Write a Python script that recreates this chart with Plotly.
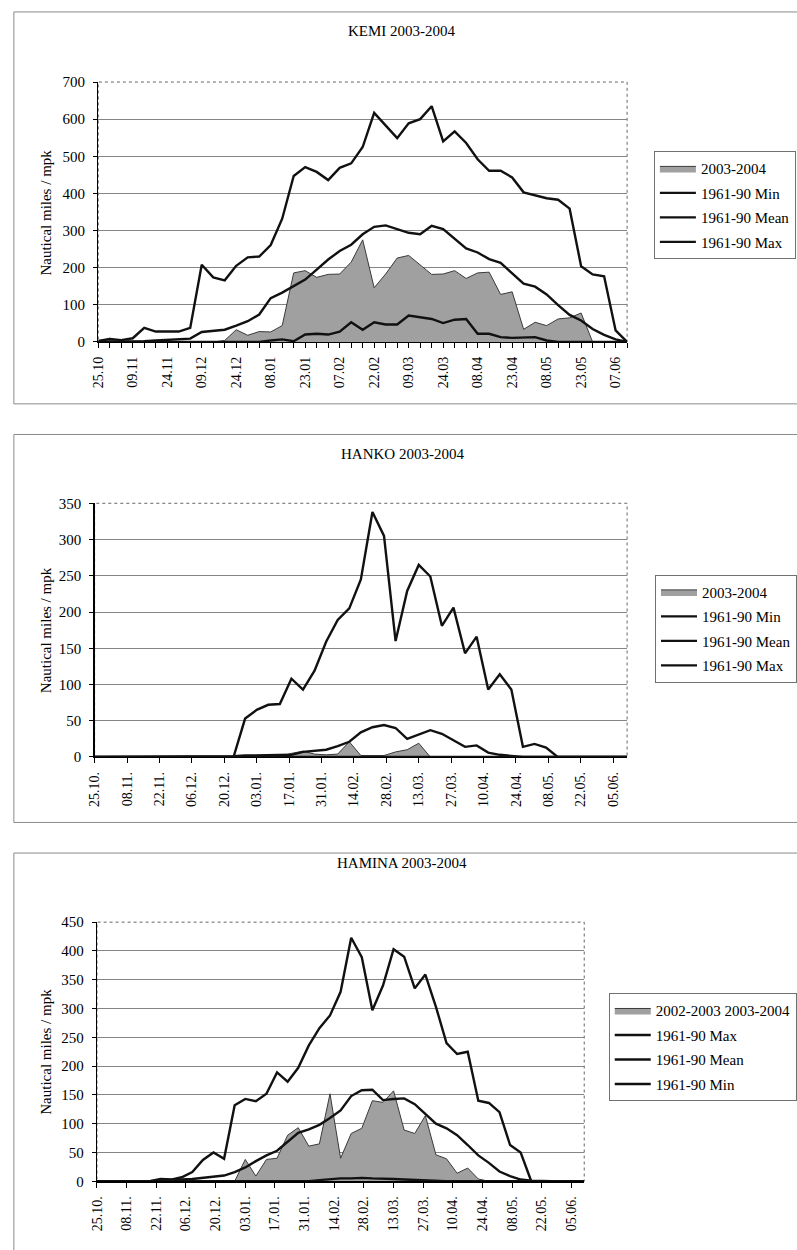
import plotly.graph_objects as go
import pandas as pd

W, H = 797, 1250
FONT = "Liberation Serif, Times New Roman, serif"

# ---------------- DATA ----------------
# KEMI: 47 observations, one every 5 days starting 25.10 (category axis)
KEMI_TICK_LABELS = ["25.10", "09.11", "24.11", "09.12", "24.12", "08.01", "23.01", "07.02",
                    "22.02", "09.03", "24.03", "08.04", "23.04", "08.05", "23.05", "07.06"]
KEMI_2003_2004 = [0, 10, 2, 0, 0, 0, 0, 0, 0, 0, 0, 4, 33, 18, 28, 27, 44, 186, 192, 174,
                  182, 183, 215, 275, 146, 183, 226, 233, 208, 182, 183, 192, 171, 186, 188,
                  128, 135, 34, 53, 44, 62, 65, 78, 0, 0, 0, 0]
KEMI_MIN = [0, 0, 0, 0, 0, 0, 0, 0, 0, 0, 0, 0, 0, 0, 0, 4, 7, 2, 20, 22, 20, 28, 53, 33,
            53, 47, 47, 71, 66, 62, 51, 60, 62, 22, 22, 13, 11, 11, 13, 4, 0, 0, 0, 0, 0, 0, 0]
KEMI_MEAN = [0, 0, 0, 0, 2, 4, 6, 9, 9, 27, 29, 33, 44, 56, 74, 118, 133, 150, 168, 195,
             222, 245, 262, 290, 310, 314, 304, 294, 290, 313, 304, 279, 252, 241, 223, 213,
             186, 157, 149, 128, 99, 73, 58, 35, 19, 7, 0]
KEMI_MAX = [3, 8, 5, 10, 38, 28, 28, 28, 38, 208, 174, 166, 205, 228, 230, 261, 332, 447,
            471, 458, 436, 469, 481, 525, 617, 584, 549, 589, 600, 635, 540, 567, 536, 492,
            461, 461, 443, 403, 396, 387, 383, 359, 204, 182, 177, 31, 0]

# HANKO and HAMINA: 47 observations every 5 days from 25.10.2003 (date axis, 14-day ticks)
SEASON_START = "2003-10-25"
SEASON_END = "2004-06-11"
N_OBS = 47

HANKO_2003_2004 = [0, 0, 0, 0, 0, 0, 0, 0, 0, 0, 0, 0, 0, 0, 0, 0, 0, 5, 8, 4, 3, 4, 21, 2,
                   2, 2, 7, 10, 19, 0, 0, 0, 0, 0, 0, 0, 0, 0, 0, 0, 0, 0, 0, 0, 0, 0, 0]
HANKO_MIN = [0, 0, 0, 0, 0, 0, 0, 0, 0, 0, 0, 0, 0, 0, 0, 0, 0, 0, 0, 0, 0, 0, 0, 0,
             1, 1, 1, 0, 0, 0, 0, 0, 0, 0, 0, 0, 0, 0, 0, 0, 0, 0, 0, 0, 0, 0, 0]
HANKO_MEAN = [0, 0, 0, 0, 0, 0, 0, 0, 0, 0, 0, 0, 1, 2, 2, 2, 3, 3, 7, 9, 10, 15, 21, 34,
              41, 44, 40, 25, 31, 37, 32, 23, 14, 16, 6, 3, 1, 0, 0, 0, 0, 0, 0, 0, 0, 0, 0]
HANKO_MAX = [0, 0, 0, 0, 0, 0, 0, 0, 0, 0, 0, 0, 0, 53, 65, 72, 73, 108, 93, 119, 159, 189,
             205, 245, 338, 305, 160, 229, 265, 249, 181, 206, 143, 166, 93, 114, 93, 14, 18,
             13, 0, 0, 0, 0, 0, 0, 0]

HAMINA_2003_2004 = [0, 0, 0, 0, 0, 0, 0, 0, 0, 0, 0, 0, 0, 0, 38, 9, 38, 40, 80, 93, 61, 65,
                    152, 40, 83, 92, 140, 137, 157, 89, 83, 114, 46, 39, 14, 23, 4, 0, 0, 0,
                    0, 0, 0, 0, 0, 0, 0]
HAMINA_MAX = [0, 0, 0, 0, 0, 0, 4, 3, 7, 16, 37, 50, 39, 132, 143, 139, 152, 189, 173, 197,
              236, 266, 288, 329, 423, 389, 297, 340, 403, 390, 335, 359, 303, 240, 221, 225,
              140, 136, 120, 63, 50, 0, 0, 0, 0, 0, 0]
HAMINA_MEAN = [0, 0, 0, 0, 0, 0, 2, 2, 3, 4, 6, 8, 10, 16, 24, 35, 45, 53, 68, 84, 90, 98,
               110, 123, 148, 158, 159, 141, 143, 144, 134, 117, 100, 92, 80, 63, 45, 32, 17,
               9, 3, 1, 0, 0, 0, 0, 0]
HAMINA_MIN = [0, 0, 0, 0, 0, 0, 0, 0, 0, 0, 0, 0, 0, 0, 0, 0, 0, 0, 0, 0, 0, 2, 4, 5, 5, 6,
              5, 5, 4, 3, 2, 1, 0, 0, 0, 0, 0, 0, 0, 0, 0, 0, 0, 0, 0, 0, 0]

TITLES = ["KEMI 2003-2004", "HANKO 2003-2004", "HAMINA 2003-2004"]
Y_TITLE = "Nautical miles / mpk"

# ---------------- LAYOUT HELPERS ----------------
def px_x(p):
    return p / W

def px_y(p):
    return 1 - p / H

AREA_FILL = "#a0a0a0"
AREA_LINE = "#3a3a3a"
LINE_COL = "#111111"
LW = 2.4

fig = go.Figure()

kemi_x = list(range(len(KEMI_MAX)))
dates = pd.date_range(SEASON_START, periods=N_OBS, freq="5D")


def area(x, y, name, xa, ya, leg):
    return go.Scatter(x=x, y=y, name=name, mode="lines", fill="tozeroy",
                      fillcolor=AREA_FILL, line=dict(color=AREA_LINE, width=1),
                      xaxis=xa, yaxis=ya, legend=leg, legendgroup=leg + name)


def line(x, y, name, xa, ya, leg, width=LW):
    return go.Scatter(x=x, y=y, name=name, mode="lines",
                      line=dict(color=LINE_COL, width=width),
                      xaxis=xa, yaxis=ya, legend=leg, legendgroup=leg + name)


# KEMI
fig.add_trace(area(kemi_x, KEMI_2003_2004, "2003-2004", "x", "y", "legend"))
fig.add_trace(line(kemi_x, KEMI_MIN, "1961-90 Min", "x", "y", "legend"))
fig.add_trace(line(kemi_x, KEMI_MEAN, "1961-90 Mean", "x", "y", "legend"))
fig.add_trace(line(kemi_x, KEMI_MAX, "1961-90 Max", "x", "y", "legend"))
# HANKO
fig.add_trace(area(dates, HANKO_2003_2004, "2003-2004", "x2", "y2", "legend2"))
fig.add_trace(line(dates, HANKO_MIN, "1961-90 Min", "x2", "y2", "legend2"))
fig.add_trace(line(dates, HANKO_MEAN, "1961-90 Mean", "x2", "y2", "legend2"))
fig.add_trace(line(dates, HANKO_MAX, "1961-90 Max", "x2", "y2", "legend2"))
# HAMINA
fig.add_trace(area(dates, HAMINA_2003_2004, "2002-2003 2003-2004", "x3", "y3", "legend3"))
fig.add_trace(line(dates, HAMINA_MAX, "1961-90 Max", "x3", "y3", "legend3"))
fig.add_trace(line(dates, HAMINA_MEAN, "1961-90 Mean", "x3", "y3", "legend3"))
fig.add_trace(line(dates, HAMINA_MIN, "1961-90 Min", "x3", "y3", "legend3"))

xtickfont = dict(family=FONT, size=14, color="#000")
ytickfont = dict(family=FONT, size=15, color="#000")
base_x = dict(showline=True, linecolor="#000", linewidth=1.3, ticks="outside", ticklen=5,
              tickcolor="#000", tickangle=-90, showgrid=False, zeroline=False,
              tickfont=xtickfont, fixedrange=True, ticklabelstandoff=3)
base_y = dict(showline=True, linecolor="#000", linewidth=1.3, ticks="outside", ticklen=4,
              tickcolor="#000", showgrid=True, gridcolor="#858585", gridwidth=1,
              zeroline=False, tickfont=ytickfont, fixedrange=True, ticklabelstandoff=5)

# plot-area pixel boxes: (left, top, right, bottom)
BOX_KEMI = (93, 75, 632, 338.3)
BOX_HANKO = (89.3, 501.7, 632, 758.7)
BOX_HAMINA = (91.7, 926, 588.3, 1188.5)

def dom(box):
    l, t, r, b = box
    return [px_x(l), px_x(r)], [px_y(b), px_y(t)]

dx1, dy1 = dom(BOX_KEMI)
dx2, dy2 = dom(BOX_HANKO)
dx3, dy3 = dom(BOX_HAMINA)

kemi_tickvals = list(range(len(KEMI_MAX)))
kemi_ticktext = [KEMI_TICK_LABELS[i // 3] if i % 3 == 0 and i // 3 < len(KEMI_TICK_LABELS) else ""
                 for i in kemi_tickvals]

fig.update_layout(
    xaxis=dict(base_x, domain=dx1, anchor="y", range=[0, len(KEMI_MAX) - 1],
               tickmode="array", tickvals=kemi_tickvals, ticktext=kemi_ticktext),
    yaxis=dict(base_y, domain=dy1, anchor="x", range=[0, 700], dtick=100),
    xaxis2=dict(base_x, domain=dx2, anchor="y2", type="date",
                range=[SEASON_START, SEASON_END], tick0=SEASON_START,
                dtick=14 * 86400000, tickformat="%d.%m."),
    yaxis2=dict(base_y, domain=dy2, anchor="x2", range=[0, 350], dtick=50),
    xaxis3=dict(base_x, domain=dx3, anchor="y3", type="date",
                range=[SEASON_START, SEASON_END], tick0=SEASON_START,
                dtick=14 * 86400000, tickformat="%d.%m."),
    yaxis3=dict(base_y, domain=dy3, anchor="x3", range=[0, 450], dtick=50),
)

legfont = dict(family=FONT, size=15, color="#000")
legcommon = dict(xanchor="left", yanchor="top", bgcolor="rgba(255,255,255,1)",
                 bordercolor="#707070", borderwidth=1, font=legfont,
                 tracegroupgap=2, itemwidth=36, traceorder="grouped")
fig.update_layout(
    legend=dict(legcommon, x=px_x(659.3), y=px_y(145)),
    legend2=dict(legcommon, x=px_x(660.7), y=px_y(574)),
    legend3=dict(legcommon, x=px_x(613.3), y=px_y(998)),
)

shapes = []
# outer panel frames
for (t, b) in [(4, 401), (432, 825), (856, 1262)]:
    shapes.append(dict(type="rect", xref="paper", yref="paper", x0=px_x(7), x1=1.02,
                       y0=px_y(b), y1=px_y(t), line=dict(color="#8a8a8a", width=1),
                       layer="below"))
# dotted plot-area borders (top/right)
for box in [BOX_KEMI, BOX_HANKO, BOX_HAMINA]:
    l, t, r, b = box
    shapes.append(dict(type="rect", xref="paper", yref="paper", x0=px_x(l), x1=px_x(r),
                       y0=px_y(b), y1=px_y(t), line=dict(color="#666", width=1, dash="dot"),
                       layer="below"))

annotations = []
for title, ty in zip(TITLES, [23, 452, 866]):
    annotations.append(dict(text=title, x=px_x(403), y=px_y(ty), xref="paper", yref="paper",
                            showarrow=False, xanchor="center", yanchor="middle",
                            font=dict(family=FONT, size=15, color="#000")))
for cy in [207, 630, 1057]:
    annotations.append(dict(text=Y_TITLE, x=px_x(40), y=px_y(cy), xref="paper", yref="paper",
                            showarrow=False, textangle=-90, xanchor="center", yanchor="middle",
                            font=dict(family=FONT, size=15, color="#000")))

fig.update_layout(
    width=W, height=H, margin=dict(l=0, r=0, t=0, b=0),
    paper_bgcolor="white", plot_bgcolor="white",
    shapes=shapes, annotations=annotations, hovermode=False,
    font=dict(family=FONT, size=14, color="#000"),
)

fig.write_html("out.html", config={"displayModeBar": False, "staticPlot": True})
